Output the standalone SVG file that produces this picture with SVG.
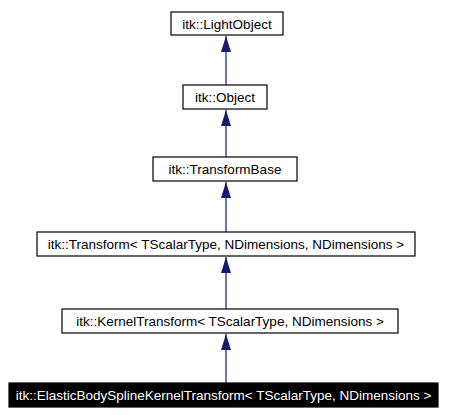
<svg xmlns="http://www.w3.org/2000/svg" width="450" height="415" viewBox="0 0 450 415">
<defs>
<style>
.box{fill:#ffffff;stroke:#000000;stroke-width:1.2}
.cur{fill:#000000;stroke:#000000;stroke-width:1.2}
.t{font-family:"Liberation Sans",Arial,sans-serif;font-size:13.5px;text-anchor:middle;fill:#000000}
.tw{fill:#ffffff}
.edge{stroke:#191970;stroke-width:1.2;fill:none}
</style>
<marker id="ah" markerWidth="16" markerHeight="10" refX="16" refY="5" orient="auto" markerUnits="userSpaceOnUse" viewBox="0 0 16 10">
<path d="M0,0 L16,5 L0,10 Z" fill="#191970"/>
</marker>
</defs>
<rect width="450" height="415" fill="#ffffff"/>
<g id="connectors">
<line class="edge" x1="226" y1="85" x2="226" y2="36" marker-end="url(#ah)"/>
<line class="edge" x1="226" y1="157" x2="226" y2="110" marker-end="url(#ah)"/>
<line class="edge" x1="226" y1="232" x2="226" y2="182" marker-end="url(#ah)"/>
<line class="edge" x1="226" y1="309" x2="226" y2="257" marker-end="url(#ah)"/>
<line class="edge" x1="226" y1="383" x2="226" y2="334" marker-end="url(#ah)"/>
</g>
<g id="LightObject">
<rect class="box" x="171" y="12" width="112" height="23"/>
<text class="t" x="227" y="28.5">itk::LightObject</text>
</g>
<g id="Object">
<rect class="box" x="183" y="85" width="84" height="24"/>
<text class="t" x="225" y="101.5">itk::Object</text>
</g>
<g id="TransformBase">
<rect class="box" x="153" y="157" width="144" height="24"/>
<text class="t" x="225" y="173.5">itk::TransformBase</text>
</g>
<g id="Transform">
<rect class="box" x="37" y="232" width="378" height="24"/>
<text class="t" x="226" y="248.5">itk::Transform&lt; TScalarType, NDimensions, NDimensions &gt;</text>
</g>
<g id="KernelTransform">
<rect class="box" x="62" y="309" width="336" height="24"/>
<text class="t" x="230" y="325.5">itk::KernelTransform&lt; TScalarType, NDimensions &gt;</text>
</g>
<g id="ElasticBodySplineKernelTransform">
<rect class="cur" x="9" y="383" width="429" height="24"/>
<text class="t tw" x="223.5" y="399.5">itk::ElasticBodySplineKernelTransform&lt; TScalarType, NDimensions &gt;</text>
</g>
</svg>
